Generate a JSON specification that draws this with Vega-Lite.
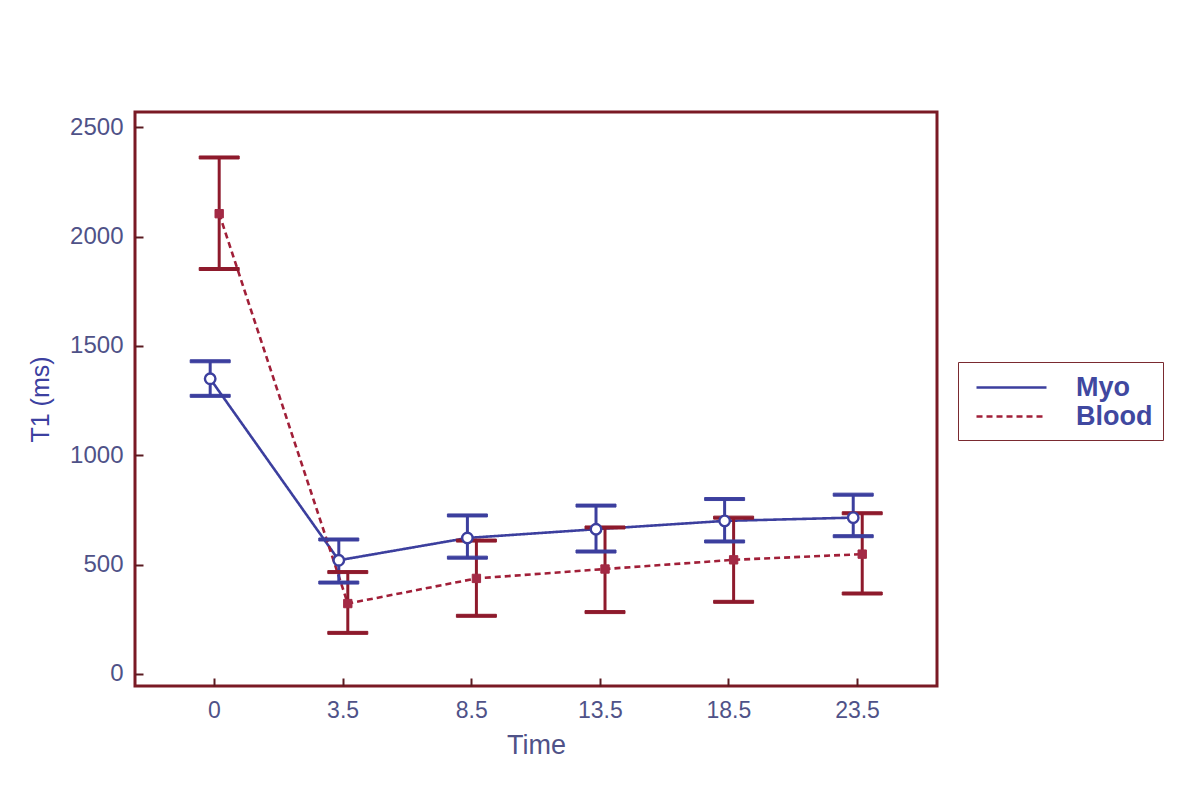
{
  "$schema": "https://vega.github.io/schema/vega-lite/v6.json",
  "width": 802,
  "height": 574,
  "autosize": {"type": "none"},
  "padding": {"left": 135, "top": 112, "right": 263, "bottom": 100},
  "background": "white",
  "config": {
    "view": {"stroke": "#7a1a25", "strokeWidth": 3},
    "font": "Liberation Sans"
  },
  "data": {
    "values": [
      {"time": "0", "series": "Myo", "mean": 1350, "lo": 1272, "hi": 1430},
      {"time": "3.5", "series": "Myo", "mean": 520, "lo": 418, "hi": 615},
      {"time": "8.5", "series": "Myo", "mean": 622, "lo": 532, "hi": 725},
      {"time": "13.5", "series": "Myo", "mean": 662, "lo": 560, "hi": 770},
      {"time": "18.5", "series": "Myo", "mean": 700, "lo": 606, "hi": 800},
      {"time": "23.5", "series": "Myo", "mean": 715, "lo": 630, "hi": 820},
      {"time": "0", "series": "Blood", "mean": 2105, "lo": 1852, "hi": 2362},
      {"time": "3.5", "series": "Blood", "mean": 322, "lo": 188, "hi": 466},
      {"time": "8.5", "series": "Blood", "mean": 437, "lo": 266, "hi": 610},
      {"time": "13.5", "series": "Blood", "mean": 480, "lo": 283, "hi": 670},
      {"time": "18.5", "series": "Blood", "mean": 522, "lo": 330, "hi": 715},
      {"time": "23.5", "series": "Blood", "mean": 548, "lo": 368, "hi": 735}
    ]
  },
  "encoding": {
    "x": {
      "field": "time", "type": "ordinal", "sort": null,
      "scale": {"type": "band", "paddingInner": 0.7, "paddingOuter": 0.468},
      "axis": {
        "title": "Time", "labelAngle": 0, "domain": false, "grid": false,
        "tickSize": -8, "tickColor": "#5a1a20", "tickWidth": 2, "tickBand": "center",
        "labelFontSize": 23, "labelColor": "#4f5288", "labelPadding": 21,
        "titleFontSize": 27, "titleColor": "#4f5288", "titleFontWeight": "normal", "titlePadding": 10
      }
    },
    "xOffset": {
      "field": "series", "type": "nominal", "sort": ["Myo", "Blood"],
      "scale": {"type": "point", "range": [15, 24], "padding": 0}
    }
  },
  "layer": [
    {
      "mark": {"type": "line", "strokeWidth": 2.6},
      "encoding": {
        "y": {
          "field": "mean", "type": "quantitative",
          "scale": {"domain": [-55, 2570], "nice": false, "zero": false},
          "axis": {
            "title": "T1 (ms)", "values": [0, 500, 1000, 1500, 2000, 2500], "format": "d",
            "domain": false, "grid": false,
            "tickSize": -8, "tickColor": "#5a1a20", "tickWidth": 2,
            "labelFontSize": 24, "labelColor": "#4f5288", "labelPadding": 20,
            "titleFontSize": 25, "titleColor": "#3c40a0", "titleFontWeight": "normal", "titlePadding": 16
          }
        },
        "color": {
          "field": "series", "type": "nominal",
          "scale": {"domain": ["Myo", "Blood"], "range": ["#3c3f9e", "#a11f38"]},
          "legend": {
            "title": null, "orient": "none", "legendX": 823, "legendY": 250,
            "fillColor": "white", "strokeColor": "#7a2a30", "padding": 10,
            "labelFontSize": 27, "labelFontWeight": "bold", "labelColor": "#4048a0",
            "symbolType": "M-0.5,0L4.5,0",
            "symbolSize": 784, "symbolStrokeWidth": 2.5, "rowPadding": 0, "labelOffset": 77
          }
        },
        "strokeDash": {
          "field": "series", "type": "nominal",
          "scale": {"domain": ["Myo", "Blood"], "range": [[1, 0], [6, 4]]},
          "legend": {
            "title": null, "orient": "none", "legendX": 823, "legendY": 250,
            "fillColor": "white", "strokeColor": "#7a2a30", "padding": 10,
            "labelFontSize": 27, "labelFontWeight": "bold", "labelColor": "#4048a0",
            "symbolType": "M-0.5,0L4.5,0",
            "symbolSize": 784, "symbolStrokeWidth": 2.5, "rowPadding": 0, "labelOffset": 77
          }
        }
      }
    },
    {
      "mark": {"type": "rule", "strokeWidth": 3},
      "encoding": {
        "y": {"field": "lo", "type": "quantitative"},
        "y2": {"field": "hi"},
        "stroke": {
          "field": "series", "type": "nominal",
          "scale": {"domain": ["Myo", "Blood"], "range": ["#3c3f9e", "#8e1a2c"]},
          "legend": null
        }
      }
    },
    {
      "mark": {"type": "tick", "size": 40, "thickness": 3, "opacity": 1},
      "encoding": {
        "y": {"field": "lo", "type": "quantitative"},
        "stroke": {"field": "series", "type": "nominal", "legend": null},
        "fill": {"field": "series", "type": "nominal", "legend": null,
                 "scale": {"domain": ["Myo", "Blood"], "range": ["#3c3f9e", "#8e1a2c"]}}
      }
    },
    {
      "mark": {"type": "tick", "size": 40, "thickness": 3, "opacity": 1},
      "encoding": {
        "y": {"field": "hi", "type": "quantitative"},
        "stroke": {"field": "series", "type": "nominal", "legend": null},
        "fill": {"field": "series", "type": "nominal", "legend": null}
      }
    },
    {
      "transform": [{"filter": "datum.series === 'Myo'"}],
      "mark": {"type": "point", "shape": "circle", "filled": true, "fill": "white", "stroke": "#3c3f9e", "strokeWidth": 2.4, "size": 110, "opacity": 1},
      "encoding": {
        "y": {"field": "mean", "type": "quantitative"}
      }
    },
    {
      "transform": [{"filter": "datum.series === 'Blood'"}],
      "mark": {"type": "point", "shape": "square", "filled": true, "fill": "#a32a45", "stroke": "#a32a45", "strokeWidth": 1, "size": 70, "opacity": 1},
      "encoding": {
        "y": {"field": "mean", "type": "quantitative"}
      }
    }
  ]
}
